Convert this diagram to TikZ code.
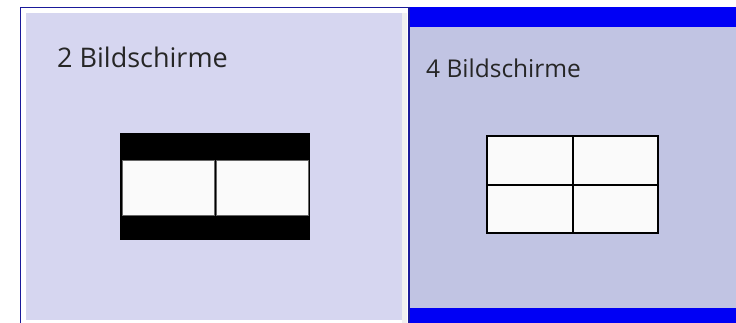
\documentclass[tikz,border=0pt]{standalone}
\usepackage{fontspec}
\setmainfont{Open Sans}
\usepackage{xcolor}
\usetikzlibrary{positioning}

\definecolor{paneleft}{HTML}{D6D6F0}
\definecolor{paneright}{HTML}{C1C4E3}
\definecolor{barblue}{HTML}{0000F5}
\definecolor{edgeblue}{HTML}{1A1A9A}
\definecolor{screenwhite}{HTML}{FAFAFA}

\begin{document}
\begin{tikzpicture}[x=1pt,y=-1pt]
  \useasboundingbox[fill=white] (0,0) rectangle (736,323);

  % Left panel: framed, lighter lavender
  \draw[edgeblue, line width=1pt] (20.5,323) -- (20.5,7.5) -- (408,7.5);
  \fill[paneleft] (26,13) rectangle (402,320);
  \fill[black!6] (402,13) rectangle (407,323);

  % Right panel: blue bars top and bottom
  \fill[barblue] (408,7) rectangle (736,27);
  \fill[paneright] (408,27) rectangle (736,308);
  \fill[barblue] (408,308) rectangle (736,323);
  \draw[edgeblue, line width=1.5pt] (409,7) -- (409,323);

  % Panel titles
  \node[anchor=base west, inner sep=0pt, font=\fontsize{27}{32}\selectfont, text=black!85] (twotitle) at (57,68) {2 Bildschirme};
  \node[anchor=base west, inner sep=0pt, font=\fontsize{24.5}{29}\selectfont, text=black!85] (fourtitle) at (426,78) {4 Bildschirme};

  % Two screens, letterboxed
  \fill[black] (120,133) rectangle (310,240);
  \draw[black!60, fill=screenwhite, line width=0.6pt] (122,160) rectangle (214,215);
  \draw[black!60, fill=screenwhite, line width=0.6pt] (216,160) rectangle (308,215);

  % Four screens, 2x2
  \draw[black, fill=screenwhite, line width=1.4pt] (487,136) rectangle (658,233);
  \draw[black, line width=1.4pt] (573,136) -- (573,233);
  \draw[black, line width=1.4pt] (487,185) -- (658,185);
\end{tikzpicture}
\end{document}
